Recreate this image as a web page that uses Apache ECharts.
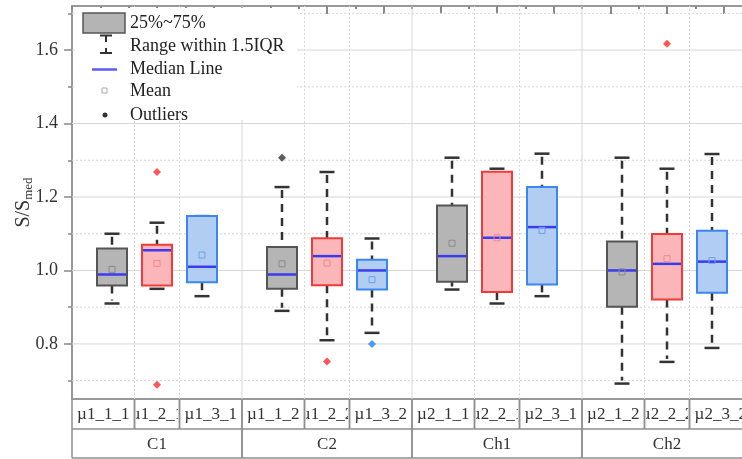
<!DOCTYPE html>
<html><head><meta charset="utf-8">
<script src="https://cdn.jsdelivr.net/npm/echarts@6/dist/echarts.min.js"></script>
<style>html,body{margin:0;padding:0;background:#fff}#c{width:742px;height:459px}</style>
</head><body><div id="c"></div>
<script>
// ---------------- data ----------------
const groups = ['C1', 'C2', 'Ch1', 'Ch2'];
const subLabels = [
  ['µ1_1_1', 'µ1_2_1', 'µ1_3_1'],
  ['µ1_1_2', 'µ1_2_2', 'µ1_3_2'],
  ['µ2_1_1', 'µ2_2_1', 'µ2_3_1'],
  ['µ2_1_2', 'µ2_2_2', 'µ2_3_2']
];
// [lower whisker, Q1, median, Q3, upper whisker] per group
const grayStats = [
  [0.910, 0.959, 0.989, 1.060, 1.100],
  [0.890, 0.950, 0.989, 1.064, 1.227],
  [0.948, 0.969, 1.039, 1.177, 1.307],
  [0.692, 0.901, 1.000, 1.079, 1.307]
];
const grayMean = [1.003, 1.018, 1.074, 0.996];
const grayOutliers = [[1, 1.307]];

const pinkStats = [
  [0.950, 0.959, 1.055, 1.070, 1.130],
  [0.810, 0.960, 1.039, 1.088, 1.268],
  [0.910, 0.941, 1.089, 1.269, 1.277],
  [0.751, 0.921, 1.018, 1.099, 1.277]
];
const pinkMean = [1.019, 1.020, 1.089, 1.032];
const pinkOutliers = [[0, 1.268], [0, 0.689], [1, 0.752], [3, 1.617]];

const blueStats = [
  [0.930, 0.968, 1.010, 1.148, 1.148],
  [0.830, 0.948, 1.000, 1.029, 1.087],
  [0.930, 0.962, 1.118, 1.227, 1.318],
  [0.789, 0.939, 1.024, 1.108, 1.317]
];
const blueMean = [1.042, 0.975, 1.109, 1.027];
const blueOutliers = [[1, 0.800]];

const yMajorTicks = [0.8, 1.0, 1.2, 1.4, 1.6];
const yMinorTicks = [0.7, 0.9, 1.1, 1.3, 1.5, 1.7];
const Y_MIN = 0.65, Y_MAX = 1.72;

// ---------------- layout / style ----------------
const FONT = '"Liberation Serif","Times New Roman",serif';
const SUB_OFF = 45 / 170;      // spacing of the three boxes inside a group (group units)
const DIV_OFF = SUB_OFF / 2;   // divider between boxes
function pos(g, s) { return g + 0.5 + (s - 1) * SUB_OFF; }

function boxSeries(name, s, stats, means, fill, stroke, meanColor) {
  return {
    type: 'custom', name: name, z: 5, silent: true,
    data: stats.map((st, g) => [pos(g, s)].concat(st, [means[g]])),
    encode: { x: 0, y: [1, 2, 3, 4, 5, 6] },
    renderItem: function (params, api) {
      const x = api.value(0);
      const c = i => api.coord([x, api.value(i)]);
      const lo = c(1), q1 = c(2), md = c(3), q3 = c(4), hi = c(5), mn = c(6);
      const cx = md[0], hw = 15, cw = 7.5;
      const dash = { stroke: '#333', lineWidth: 2.5, lineDash: [8, 6], fill: null };
      const solid = { stroke: '#333', lineWidth: 2.5, fill: null };
      const ch = [];
      if (q3[1] - hi[1] > 1) ch.push({ type: 'line', shape: { x1: cx, y1: hi[1] + 3, x2: cx, y2: q3[1] }, style: dash });
      if (lo[1] - q1[1] > 1) ch.push({ type: 'line', shape: { x1: cx, y1: q1[1], x2: cx, y2: lo[1] - 3 }, style: dash });
      ch.push({ type: 'line', shape: { x1: cx - cw, y1: hi[1], x2: cx + cw, y2: hi[1] }, style: solid });
      ch.push({ type: 'line', shape: { x1: cx - cw, y1: lo[1], x2: cx + cw, y2: lo[1] }, style: solid });
      ch.push({ type: 'rect', shape: { x: cx - hw, y: q3[1], width: 2 * hw, height: q1[1] - q3[1] },
                style: { fill: fill, stroke: stroke, lineWidth: 2 } });
      ch.push({ type: 'line', shape: { x1: cx - hw + 1, y1: md[1], x2: cx + hw - 1, y2: md[1] },
                style: { stroke: '#3a3af0', lineWidth: 2.5 } });
      ch.push({ type: 'rect', shape: { x: cx - 3, y: mn[1] - 3, width: 6, height: 6 },
                style: { fill: null, stroke: meanColor, lineWidth: 1 } });
      return { type: 'group', children: ch };
    }
  };
}

function outlierSeries(s, list, color) {
  return {
    type: 'scatter', z: 6, silent: true,
    data: list.map(([g, v]) => [pos(g, s), v]),
    symbol: 'diamond', symbolSize: 8,
    itemStyle: { color: color }
  };
}

const gridSeries = {
  type: 'custom', z: 1, silent: true,
  data: [[0, Y_MIN]],
  renderItem: function (params, api) {
    const ch = [];
    const major = { stroke: '#d6d6d6', lineWidth: 1 };
    const minor = { stroke: '#d6d6d6', lineWidth: 1, lineDash: [2, 2] };
    yMajorTicks.forEach(v => {
      const a = api.coord([0, v]), b = api.coord([groups.length, v]);
      ch.push({ type: 'line', shape: { x1: a[0], y1: a[1], x2: b[0], y2: b[1] }, style: major });
    });
    yMinorTicks.forEach(v => {
      const a = api.coord([0, v]), b = api.coord([groups.length, v]);
      ch.push({ type: 'line', shape: { x1: a[0], y1: a[1], x2: b[0], y2: b[1] }, style: minor });
    });
    groups.forEach((gName, g) => {
      if (g > 0) {
        const a = api.coord([g, Y_MIN]), b = api.coord([g, Y_MAX]);
        ch.push({ type: 'line', shape: { x1: a[0], y1: a[1], x2: b[0], y2: b[1] }, style: major });
      }
      [g + 0.5 - DIV_OFF, g + 0.5 + DIV_OFF].forEach(xv => {
        const a = api.coord([xv, Y_MIN]), b = api.coord([xv, Y_MAX]);
        ch.push({ type: 'line', shape: { x1: a[0], y1: a[1], x2: b[0], y2: b[1] }, style: minor });
      });
    });
    return { type: 'group', children: ch };
  }
};

const cells = [];
subLabels.forEach((row, g) => row.forEach((lab, s) => cells.push([g, s])));
const ROW1 = 30, ROW2 = 29;
const tableLine = { stroke: '#8f8f8f', lineWidth: 1.5 };
const tableSeries = {
  type: 'custom', z: 3, silent: true, clip: false,
  data: cells,
  renderItem: function (params, api) {
    const g = api.value(0), s = api.value(1);
    const b = [g, g + 0.5 - DIV_OFF, g + 0.5 + DIV_OFF, g + 1];
    const p0 = api.coord([b[s], Y_MIN]), p1 = api.coord([b[s + 1], Y_MIN]);
    const top = p0[1];
    const ch = [];
    ch.push({ type: 'line', shape: { x1: p0[0], y1: top, x2: p0[0], y2: top + ROW1 }, style: tableLine });
    ch.push({ type: 'line', shape: { x1: p1[0], y1: top, x2: p1[0], y2: top + ROW1 }, style: tableLine });
    ch.push({ type: 'line', shape: { x1: p0[0], y1: top + ROW1, x2: p1[0], y2: top + ROW1 }, style: tableLine });
    ch.push({ type: 'text',
      style: { text: subLabels[g][s], x: (p0[0] + p1[0]) / 2, y: top + ROW1 / 2 + 1,
               align: 'center', verticalAlign: 'middle', font: '17px ' + FONT, fill: '#333' },
      clipPath: { type: 'rect', shape: { x: p0[0] + 1.5, y: top, width: p1[0] - p0[0] - 3, height: ROW1 } } });
    if (s === 1) {
      const g0 = api.coord([g, Y_MIN]), g1 = api.coord([g + 1, Y_MIN]);
      const t2 = top + ROW1;
      ch.push({ type: 'line', shape: { x1: g0[0], y1: t2, x2: g0[0], y2: t2 + ROW2 }, style: tableLine });
      ch.push({ type: 'line', shape: { x1: g1[0], y1: t2, x2: g1[0], y2: t2 + ROW2 }, style: tableLine });
      ch.push({ type: 'line', shape: { x1: g0[0], y1: t2 + ROW2, x2: g1[0], y2: t2 + ROW2 }, style: tableLine });
      ch.push({ type: 'text',
        style: { text: groups[g], x: (g0[0] + g1[0]) / 2, y: t2 + ROW2 / 2 + 1,
                 align: 'center', verticalAlign: 'middle', font: '17px ' + FONT, fill: '#333' } });
    }
    return { type: 'group', children: ch };
  }
};

// legend (drawn as graphic)
const LX = 130;
const legendText = (t, y) => ({ type: 'text', z: 101, style: { text: t, x: LX, y: y, verticalAlign: 'middle', font: '18px ' + FONT, fill: '#222' } });
const lg = { stroke: '#333', lineWidth: 2 };
const graphic = [
  { type: 'rect', z: 100, shape: { x: 75, y: 8, width: 222, height: 112 }, style: { fill: '#fff' } },
  { type: 'rect', z: 101, shape: { x: 83, y: 13, width: 42, height: 20 }, style: { fill: '#b4b4b4', stroke: '#555', lineWidth: 1.5 } },
  legendText('25%~75%', 23),
  { type: 'line', z: 101, shape: { x1: 100, y1: 35.5, x2: 112, y2: 35.5 }, style: lg },
  { type: 'line', z: 101, shape: { x1: 106, y1: 35.5, x2: 106, y2: 42 }, style: lg },
  { type: 'line', z: 101, shape: { x1: 106, y1: 48, x2: 106, y2: 53 }, style: lg },
  { type: 'line', z: 101, shape: { x1: 100, y1: 53, x2: 112, y2: 53 }, style: lg },
  legendText('Range within 1.5IQR', 46),
  { type: 'line', z: 101, shape: { x1: 92, y1: 69.5, x2: 117, y2: 69.5 }, style: { stroke: '#5a5af5', lineWidth: 2.5 } },
  legendText('Median Line', 69),
  { type: 'rect', z: 101, shape: { x: 102, y: 88, width: 5, height: 5 }, style: { fill: null, stroke: '#aaa', lineWidth: 1 } },
  legendText('Mean', 91),
  { type: 'circle', z: 101, shape: { cx: 105, cy: 115, r: 2.5 }, style: { fill: '#333' } },
  legendText('Outliers', 115)
];

const chart = echarts.init(document.getElementById('c'), null, { renderer: 'canvas' });
chart.setOption({
  animation: false,
  backgroundColor: '#fff',
  grid: { left: 72, top: 6, width: 680, height: 393, containLabel: false, outerBoundsMode: 'none' },
  xAxis: [
    { type: 'value', min: 0, max: groups.length, interval: 1, position: 'bottom',
      axisLine: { show: true, onZero: false, lineStyle: { color: '#999', width: 2 } },
      axisTick: { show: false }, axisLabel: { show: false }, splitLine: { show: false } },
    { type: 'value', min: 0, max: 12, interval: 1, position: 'top',
      axisLine: { show: true, onZero: false, lineStyle: { color: '#999', width: 2 } },
      axisTick: { show: true, inside: true, length: 3, lineStyle: { color: '#888', width: 2 } },
      minorTick: { show: true, splitNumber: 2, length: 8, lineStyle: { color: '#888', width: 2 } },
      axisLabel: { show: false }, splitLine: { show: false }, minorSplitLine: { show: false } }
  ],
  yAxis: [
    { type: 'value', min: Y_MIN, max: Y_MAX, position: 'left',
      axisLine: { show: true, onZero: false, lineStyle: { color: '#999', width: 2 } },
      axisTick: { show: true, inside: false, length: 8, customValues: yMajorTicks, lineStyle: { color: '#888', width: 1.5 } },
      axisLabel: { show: true, customValues: yMajorTicks, margin: 14, formatter: v => v.toFixed(1),
                   fontFamily: FONT, fontSize: 18, color: '#333' },
      splitLine: { show: false },
      name: '{m|S/S}{s|med}', nameLocation: 'middle', nameGap: 37, nameRotate: 90, nameMoveOverlap: false,
      nameTextStyle: { rich: {
        m: { fontFamily: FONT, fontSize: 20, color: '#333' },
        s: { fontFamily: FONT, fontSize: 13, color: '#333', padding: [10, 0, 0, 0] }
      } } },
    { type: 'value', min: Y_MIN, max: Y_MAX, position: 'left',
      axisLine: { show: false },
      axisTick: { show: true, inside: false, length: 4, customValues: yMinorTicks, lineStyle: { color: '#888', width: 1.5 } },
      axisLabel: { show: false }, splitLine: { show: false } }
  ],
  graphic: graphic,
  series: [
    gridSeries,
    tableSeries,
    boxSeries('gray', 0, grayStats, grayMean, '#b5b5b5', '#555', '#8a8a8a'),
    boxSeries('pink', 1, pinkStats, pinkMean, '#fab6b8', '#f23a3a', '#ee8a8a'),
    boxSeries('blue', 2, blueStats, blueMean, '#b2cdf2', '#3a86f2', '#6e9fea'),
    outlierSeries(0, grayOutliers, '#333'),
    outlierSeries(1, pinkOutliers, '#ff2a2a'),
    outlierSeries(2, blueOutliers, '#2a7ff0')
  ]
});
</script>
</body></html>
